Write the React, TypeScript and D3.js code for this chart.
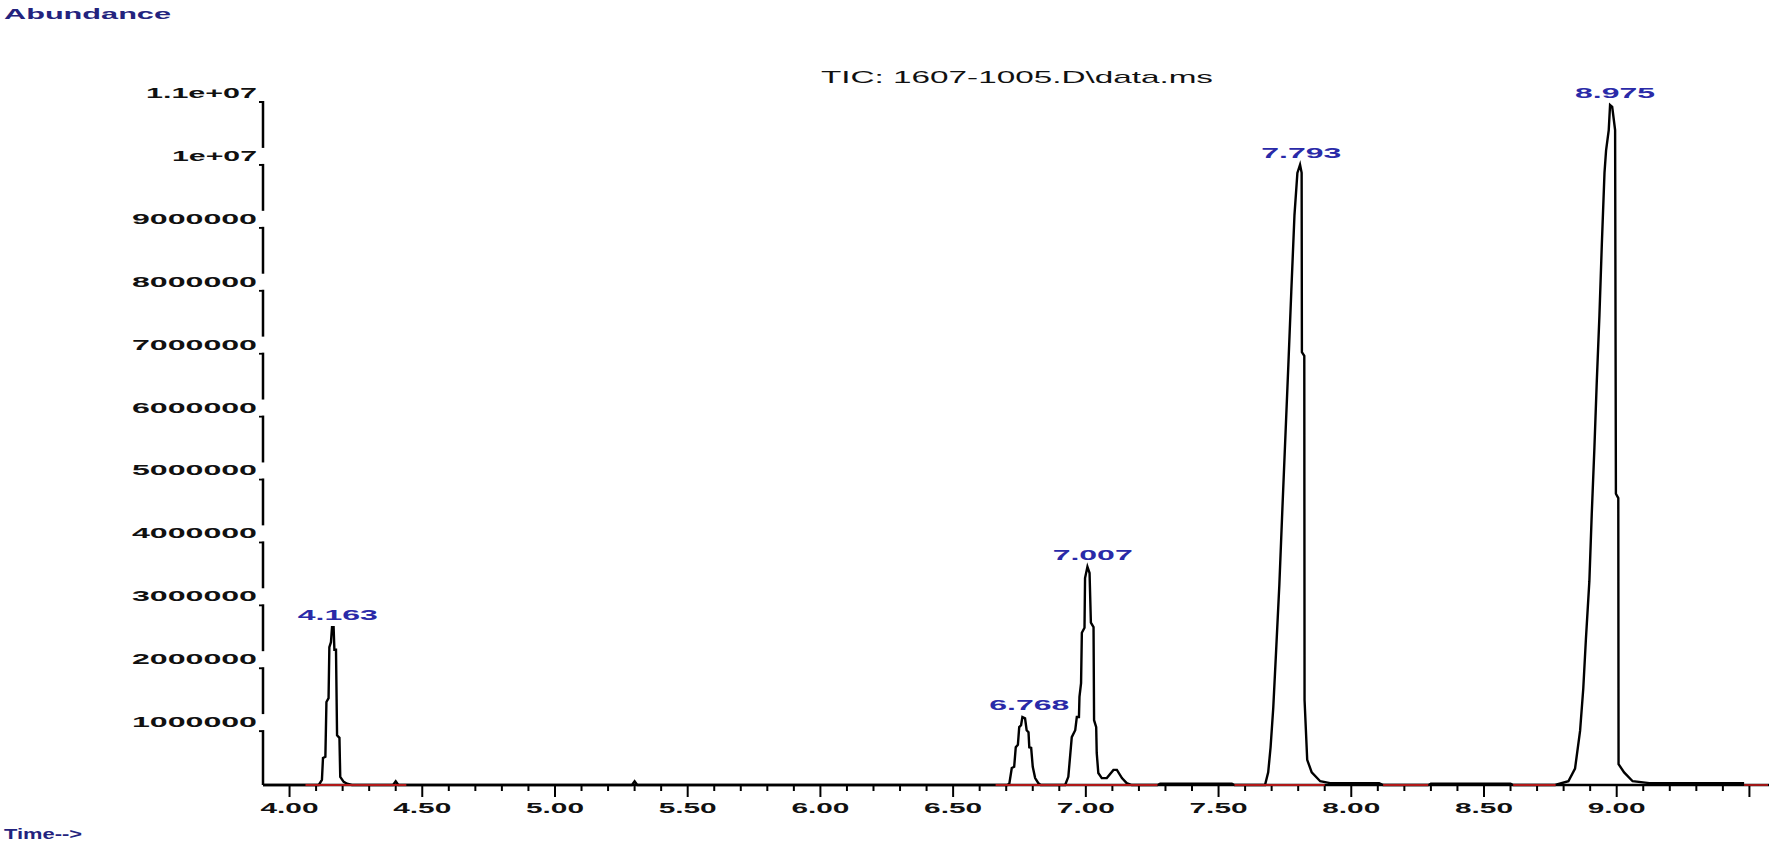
import React from "react";
import * as d3 from "d3";

// ---------- data ----------
const titleText = "TIC: 1607-1005.D\\data.ms";
const yAxisTitle = "Abundance";
const xAxisTitle = "Time-->";

const yTickValues = [1e6, 2e6, 3e6, 4e6, 5e6, 6e6, 7e6, 8e6, 9e6, 1e7, 1.1e7];
const xMajorTicks = [4.0, 4.5, 5.0, 5.5, 6.0, 6.5, 7.0, 7.5, 8.0, 8.5, 9.0, 9.5];
const xTickLabels = ["4.00", "4.50", "5.00", "5.50", "6.00", "6.50", "7.00", "7.50", "8.00", "8.50", "9.00", ""];
const xMinorTicks = [
  4.1, 4.2, 4.3, 4.4, 4.6, 4.7, 4.8, 4.9, 5.1, 5.2, 5.3, 5.4, 5.6, 5.7, 5.8, 5.9,
  6.1, 6.2, 6.3, 6.4, 6.6, 6.7, 6.8, 6.9, 7.1, 7.2, 7.3, 7.4, 7.6, 7.7, 7.8, 7.9,
  8.1, 8.2, 8.3, 8.4, 8.6, 8.7, 8.8, 8.9, 9.1, 9.2, 9.3, 9.4,
];

const peakLabels = ["4.163", "6.768", "7.007", "7.793", "8.975"];
const peakTimes = [4.163, 6.768, 7.007, 7.793, 8.975];
const peakApex = [2.51e6, 1.08e6, 3.47e6, 9.86e6, 10.81e6];

// trace: [time (min), abundance]
const baselineStart: [number, number][] = [
  [3.9, 0], [4.11, 0],
];
const peak4163: [number, number][] = [
  [4.122, 0.08e6], [4.126, 0.43e6], [4.135, 0.45e6], [4.139, 1.32e6], [4.147, 1.38e6],
  [4.150, 2.19e6], [4.156, 2.27e6], [4.160, 2.51e6], [4.166, 2.51e6], [4.169, 2.15e6],
  [4.175, 2.15e6], [4.179, 0.79e6], [4.188, 0.75e6], [4.191, 0.13e6], [4.204, 0.05e6],
  [4.217, 0.02e6], [4.235, 0],
];
const baselineMid: [number, number][] = [
  [4.39, 0], [4.40, 0.06e6], [4.41, 0], [5.29, 0], [5.30, 0.06e6], [5.31, 0], [6.705, 0],
];
const peak6768: [number, number][] = [
  [6.712, 0.03e6], [6.721, 0.27e6], [6.730, 0.29e6], [6.736, 0.6e6], [6.744, 0.64e6],
  [6.749, 0.92e6], [6.756, 0.95e6], [6.761, 1.08e6], [6.771, 1.06e6], [6.777, 0.87e6],
  [6.784, 0.84e6], [6.787, 0.6e6], [6.794, 0.59e6], [6.800, 0.29e6], [6.809, 0.11e6],
  [6.821, 0.03e6], [6.83, 0], [6.915, 0],
];
const peak7007: [number, number][] = [
  [6.922, 0], [6.934, 0.13e6], [6.947, 0.76e6], [6.960, 0.87e6], [6.966, 1.08e6],
  [6.974, 1.08e6], [6.976, 1.4e6], [6.982, 1.62e6], [6.985, 2.42e6], [6.995, 2.5e6],
  [6.997, 3.29e6], [7.006, 3.47e6], [7.014, 3.37e6], [7.019, 2.58e6], [7.029, 2.51e6],
  [7.031, 1.03e6], [7.039, 0.92e6], [7.041, 0.51e6], [7.047, 0.19e6], [7.060, 0.11e6],
  [7.079, 0.11e6], [7.104, 0.24e6], [7.117, 0.24e6], [7.136, 0.11e6], [7.154, 0.03e6],
  [7.173, 0], [7.27, 0], [7.28, 0.02e6], [7.55, 0.02e6], [7.56, 0], [7.675, 0],
];
const peak7793: [number, number][] = [
  [7.687, 0.2e6], [7.696, 0.6e6], [7.706, 1.22e6], [7.716, 2.06e6], [7.729, 3.18e6],
  [7.740, 4.34e6], [7.752, 5.56e6], [7.763, 6.68e6], [7.774, 7.84e6], [7.786, 9.06e6],
  [7.797, 9.73e6], [7.807, 9.86e6], [7.813, 9.73e6], [7.814, 6.88e6], [7.823, 6.82e6],
  [7.824, 1.35e6], [7.834, 0.4e6], [7.851, 0.2e6], [7.883, 0.06e6], [7.92, 0.03e6],
  [8.105, 0.03e6], [8.12, 0], [8.29, 0], [8.30, 0.02e6], [8.60, 0.02e6], [8.61, 0],
  [8.768, 0],
];
const peak8975: [number, number][] = [
  [8.818, 0.06e6], [8.843, 0.26e6], [8.862, 0.86e6], [8.874, 1.53e6], [8.884, 2.32e6],
  [8.897, 3.24e6], [8.906, 4.31e6], [8.916, 5.36e6], [8.925, 6.42e6], [8.935, 7.47e6],
  [8.944, 8.6e6], [8.954, 9.73e6], [8.960, 10.09e6], [8.970, 10.41e6], [8.975, 10.81e6],
  [8.983, 10.78e6], [8.994, 10.41e6], [8.997, 4.63e6], [9.006, 4.56e6], [9.007, 0.33e6],
  [9.028, 0.2e6], [9.06, 0.06e6], [9.123, 0.03e6], [9.48, 0.03e6],
];

// integration baseline (red) ranges
const redStarts = [4.06, 6.66, 7.56, 8.12, 8.61, 9.48];
const redEnds = [4.44, 7.27, 7.90, 8.29, 8.77, 9.57];

// ---------- layout ----------
const W = 1772;
const H = 845;
const AXIS_X = 263;
const BASE_Y = 785;

const fmtY = (v: number) =>
  v >= 1e7 ? `${d3.format("~g")(v / 1e7)}e+07` : d3.format("d")(v);

const yLabelWidth = (s: string) => (s.length === 7 && !s.includes("e") ? 125 : s.length === 7 ? 111 : 85);

export default function App() {
  const x = d3.scaleLinear().domain([3.9, 9.57]).range([AXIS_X, 1768]);
  const y = d3.scaleLinear().domain([0, 1.1e7]).range([BASE_Y, 93]);

  const trace = [
    ...baselineStart,
    ...peak4163,
    ...baselineMid,
    ...peak6768,
    ...peak7007,
    ...peak7793,
    ...peak8975,
  ];
  const line = d3
    .line<[number, number]>()
    .x((d) => x(d[0]))
    .y((d) => y(d[1]));

  const font = "'Liberation Sans', Arial, sans-serif";

  return (
    <svg width={W} height={H} style={{ position: "absolute", left: 0, top: 0, background: "#fff" }}>
      <rect x={0} y={0} width={W} height={H} fill="#fff" />
      {/* axis titles */}
      <text
        x={4}
        y={19}
        fontFamily={font}
        fontSize={14}
        fontWeight="bold"
        fill="#23237e"
        textLength={167}
        lengthAdjust="spacingAndGlyphs"
      >
        {yAxisTitle}
      </text>
      <text
        x={4}
        y={839}
        fontFamily={font}
        fontSize={14}
        fontWeight="bold"
        fill="#23237e"
        textLength={78}
        lengthAdjust="spacingAndGlyphs"
      >
        {xAxisTitle}
      </text>
      {/* title */}
      <text
        x={821}
        y={83}
        fontFamily={font}
        fontSize={17}
        fill="#111"
        textLength={392}
        lengthAdjust="spacingAndGlyphs"
      >
        {titleText}
      </text>

      {/* y axis */}
      <line x1={AXIS_X} x2={AXIS_X} y1={y(1.1e7)} y2={BASE_Y} stroke="#000" strokeWidth={2.5} />
      {yTickValues.map((v) => (
        <line key={"yt" + v} x1={AXIS_X - 4} x2={AXIS_X} y1={y(v) + 9} y2={y(v) + 9} stroke="#000" strokeWidth={2} />
      ))}
      {yTickValues.map((v) => (
        <rect key={"yg" + v} x={AXIS_X - 6} y={y(v) - 8} width={9} height={16} fill="#fff" />
      ))}
      {yTickValues.map((v) => {
        const s = fmtY(v);
        const w = yLabelWidth(s);
        return (
          <text
            key={"yl" + v}
            x={257 - w}
            y={y(v) + 5}
            fontFamily={font}
            fontSize={15}
            fontWeight="bold"
            fill="#111"
            textLength={w}
            lengthAdjust="spacingAndGlyphs"
          >
            {s}
          </text>
        );
      })}

      {/* x axis */}
      <line x1={AXIS_X} x2={1769} y1={BASE_Y} y2={BASE_Y} stroke="#000" strokeWidth={2.5} />
      {xMinorTicks.map((t) => (
        <line key={"xm" + t} x1={x(t)} x2={x(t)} y1={BASE_Y} y2={BASE_Y + 6} stroke="#000" strokeWidth={2} />
      ))}
      {xMajorTicks.map((t) => (
        <line key={"xM" + t} x1={x(t)} x2={x(t)} y1={BASE_Y} y2={BASE_Y + 12} stroke="#000" strokeWidth={2} />
      ))}
      {xMajorTicks.map((t, i) =>
        xTickLabels[i] ? (
          <text
            key={"xl" + t}
            x={x(t) - 29}
            y={BASE_Y + 28}
            fontFamily={font}
            fontSize={15}
            fontWeight="bold"
            fill="#111"
            textLength={58}
            lengthAdjust="spacingAndGlyphs"
          >
            {xTickLabels[i]}
          </text>
        ) : null
      )}

      {/* trace */}
      <path d={line(trace) ?? ""} fill="none" stroke="#000" strokeWidth={2.4} strokeLinejoin="miter" />

      {/* integration baselines */}
      {redStarts.map((s, i) => (
        <line key={"rb" + i} x1={x(s)} x2={x(redEnds[i])} y1={BASE_Y} y2={BASE_Y} stroke="#b01818" strokeWidth={1.8} />
      ))}

      {/* peak labels */}
      {peakLabels.map((p, i) => (
        <text
          key={"pk" + p}
          x={x(peakTimes[i]) + 5 - 40}
          y={y(peakApex[i]) - 7}
          fontFamily={font}
          fontSize={15}
          fontWeight="bold"
          fill="#2a2aa8"
          textLength={80}
          lengthAdjust="spacingAndGlyphs"
        >
          {p}
        </text>
      ))}
    </svg>
  );
}
